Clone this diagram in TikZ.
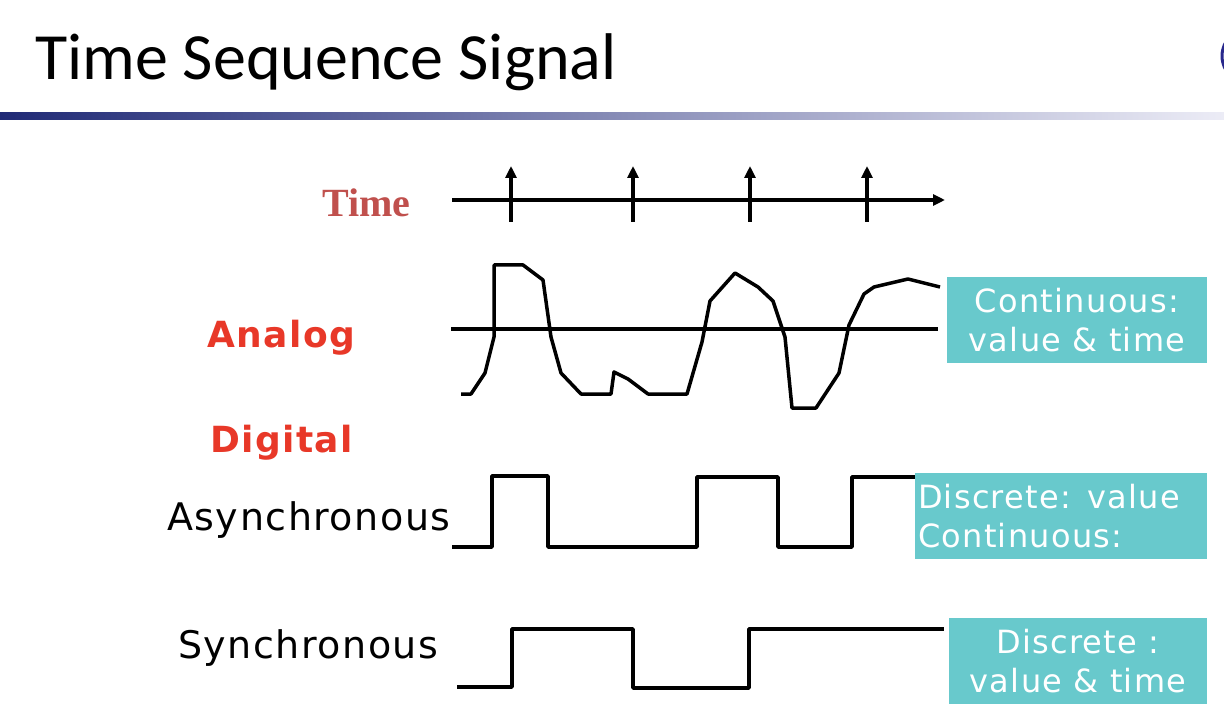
\documentclass[tikz,border=0pt]{standalone}
\usepackage{fontspec}
\usepackage{xcolor}
\usepackage{tikz}
\usetikzlibrary{arrows.meta}
\newfontfamily\titlefont{Carlito}
\newfontfamily\timefont{Liberation Serif}
\newfontfamily\handfont{DejaVu Sans}[LetterSpace=4]
\definecolor{labelred}{RGB}{232, 56, 40}
\definecolor{timered}{RGB}{192, 80, 77}
\definecolor{noteteal}{RGB}{104, 201, 204}
\definecolor{barnavy}{RGB}{32, 42, 118}
\definecolor{barmid}{RGB}{128, 134, 180}
\definecolor{barpale}{RGB}{236, 236, 246}
\definecolor{logoblue}{RGB}{40, 40, 140}

\begin{document}
\begin{tikzpicture}[x=1pt, y=-1pt,
    wave/.style={line width=3.5pt, line join=round},
    tick/.style={-{Triangle[length=12pt, width=11pt]}, line width=3.2pt},
    lbl/.style={anchor=base west, inner sep=0pt, font=\handfont\fontsize{38}{46}\selectfont},
    kind/.style={anchor=base west, inner sep=0pt, text=labelred, font=\handfont\bfseries\fontsize{36}{44}\selectfont},
    note/.style={fill=noteteal, text=white, minimum height=86pt, inner sep=2pt, font=\handfont\fontsize{32}{39}\selectfont}
]
\useasboundingbox (0,0) rectangle (1224,714);
\fill[white] (0,0) rectangle (1224,714);
\node[anchor=base west, inner sep=0pt, font=\titlefont\fontsize{66}{78}\selectfont] (title) at (35,80) {Time Sequence Signal};
\shade[left color=barnavy, middle color=barmid, right color=barpale] (0,113) rectangle (1224,120);
\begin{scope}
  \clip (1200,40) rectangle (1224,72);
  \draw[logoblue, line width=3pt] (1250,56) circle (28);
\end{scope}
\node[anchor=base west, inner sep=0pt, text=timered, font=\timefont\bfseries\fontsize{40}{48}\selectfont] (timelbl) at (322,217) {Time};
\coordinate (t0) at (452,200);
\coordinate (t1) at (945,200);
\draw[tick] (t0) -- (t1);
\draw[tick] (511,222) -- (511,166);
\draw[tick] (633,222) -- (633,166);
\draw[tick] (750,222) -- (750,166);
\draw[tick] (867,222) -- (867,166);
\node[kind] (analog) at (207,347) {Analog};
\node[kind] (digital) at (210,452) {Digital};
\node[lbl] (async) at (167,530) {Asynchronous};
\node[lbl] (sync) at (178,658) {Synchronous};
\draw[wave] (451,329) -- (938,329);
\draw[wave] (461,394) -- (471,394) -- (485,373) -- (494,337) -- (494,265) -- (523,265)
    -- (543,280) -- (551,337) -- (561,373) -- (581,394) -- (611,394) -- (614,372)
    -- (628,379) -- (648,394) -- (687,394) -- (702,342) -- (710,301) -- (735,273)
    -- (758,287) -- (773,301) -- (785,337) -- (792,408) -- (816,408) -- (839,373)
    -- (849,325) -- (864,294) -- (874,287) -- (908,279) -- (940,287);
\draw[wave] (452,547) -- (492,547) -- (492,476) -- (548,476) -- (548,547) -- (697,547)
    -- (697,477) -- (778,477) -- (778,547) -- (852,547) -- (852,477) -- (915,477);
\draw[wave] (457,687) -- (512,687) -- (512,629) -- (633,629) -- (633,688) -- (749,688)
    -- (749,629) -- (944,629);
\node[note, minimum width=260pt, align=center] (boxA) at (1077,320) {Continuous:\\value \& time};
\node[note, text width=286pt, inner xsep=3pt, align=left] (boxB) at (1061,516) {Discrete: value\\Continuous:};
\node[note, minimum width=258pt, align=center] (boxC) at (1078,661) {Discrete :\\value \& time};
\end{tikzpicture}
\end{document}
